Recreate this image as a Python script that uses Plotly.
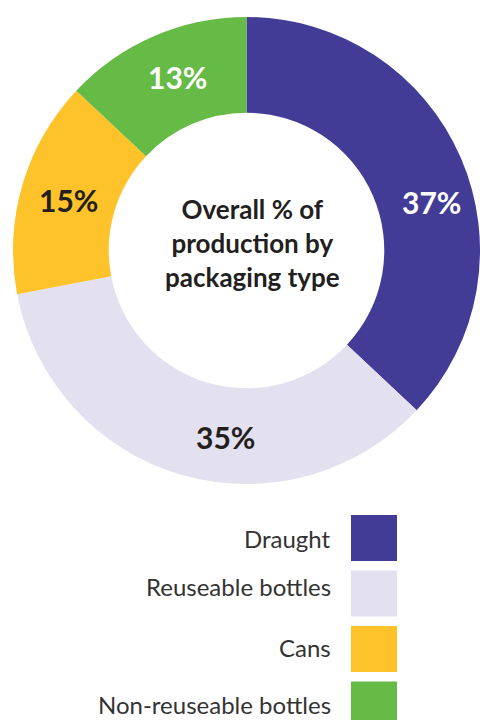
import math
import plotly.graph_objects as go

# Share of total production by packaging type (%)
categories = ["Draught", "Reuseable bottles", "Cans", "Non-reuseable bottles"]
shares = [37, 35, 15, 13]
colors = ["#433C97", "#E3E0EF", "#FEC22B", "#66BA46"]
label_colors = ["#FFFFFF", "#231F20", "#231F20", "#FFFFFF"]
# small angular nudges (degrees) so labels sit clear of the slice edges
label_nudges = [8.4, -8.8, -0.7, 0.7]
# vertical nudges (px) for the legend labels relative to their swatches
legend_text_nudges = [0, -7, -2, 0]

W, H = 480, 720
FONT = "Lato"

# donut geometry in pixels
dom_x = (13, 480)
dom_y = (17, 484)
hole = 0.59
lab_cx, lab_cy, r_lab = 250, 250.5, 188


def px(x):
    return x / W


def py(y):
    return 1 - y / H


fig = go.Figure(
    go.Pie(
        labels=categories,
        values=shares,
        hole=hole,
        sort=False,
        direction="clockwise",
        rotation=0,
        marker=dict(colors=colors, line=dict(width=0)),
        textinfo="none",
        hoverinfo="label+percent",
        showlegend=False,
        domain=dict(x=[px(dom_x[0]), px(dom_x[1])], y=[py(dom_y[1]), py(dom_y[0])]),
    )
)

annotations = []
total = sum(shares)
cum = 0
for val, col, nudge in zip(shares, label_colors, label_nudges):
    mid = (cum + val / 2) / total * 360 + nudge
    cum += val
    a = math.radians(mid)
    lx = lab_cx + r_lab * math.sin(a)
    ly = lab_cy - r_lab * math.cos(a)
    annotations.append(dict(
        x=px(lx), y=py(ly), xref="paper", yref="paper",
        text=f"<b>{val}%</b>", showarrow=False,
        font=dict(family=FONT, size=30, color=col),
        xanchor="center", yanchor="middle",
    ))

# centre caption
annotations.append(dict(
    x=px(252), y=py(243), xref="paper", yref="paper",
    text="<b>Overall % of<br>production by<br>packaging type</b>",
    showarrow=False, align="center",
    font=dict(family=FONT, size=26, color="#231F20"),
    xanchor="center", yanchor="middle",
))

# legend: label text on the left, colour swatch on the right
shapes = []
sw_x0, sw_size, sw_top, sw_step = 351, 46, 515, 55.5
for i, (name, col, dy) in enumerate(zip(categories, colors, legend_text_nudges)):
    top = sw_top + i * sw_step
    shapes.append(dict(
        type="rect", xref="paper", yref="paper",
        x0=px(sw_x0), x1=px(sw_x0 + sw_size),
        y0=py(top + sw_size), y1=py(top),
        fillcolor=col, line=dict(width=0), layer="above",
    ))
    annotations.append(dict(
        x=px(333), y=py(top + sw_size / 2 + dy), xref="paper", yref="paper",
        text=name, showarrow=False,
        font=dict(family=FONT, size=24, color="#333333"),
        xanchor="right", yanchor="middle",
    ))

fig.update_layout(
    width=W, height=H,
    margin=dict(l=0, r=0, t=0, b=0),
    paper_bgcolor="white", plot_bgcolor="white",
    annotations=annotations, shapes=shapes,
)

fig.write_html("out.html")
